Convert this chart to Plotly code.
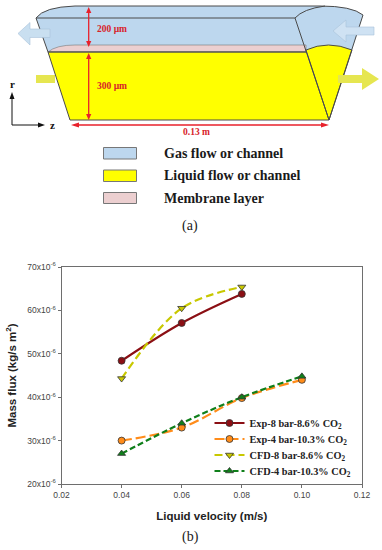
import plotly.graph_objects as go

# ---------- chart data ----------
velocity_8 = [0.04, 0.06, 0.08]
velocity_4 = [0.04, 0.06, 0.08, 0.10]
exp_8bar = [48.4e-6, 57.1e-6, 63.8e-6]
exp_4bar = [30.0e-6, 33.0e-6, 39.8e-6, 44.0e-6]
cfd_8bar = [44.3e-6, 60.5e-6, 65.4e-6]
cfd_4bar = [27.0e-6, 34.0e-6, 40.0e-6, 44.8e-6]
x_ticks = [0.02, 0.04, 0.06, 0.08, 0.10, 0.12]
x_labels = ["0.02", "0.04", "0.06", "0.08", "0.10", "0.12"]
y_ticks = [20e-6, 30e-6, 40e-6, 50e-6, 60e-6, 70e-6]
y_labels = [f"{v}x10<sup>-6</sup>" for v in (20, 30, 40, 50, 60, 70)]
legend_names = ["<b>Exp-8 bar-8.6% CO<sub>2</sub></b>", "<b>Exp-4 bar-10.3% CO<sub>2</sub></b>",
                "<b>CFD-8 bar-8.6% CO<sub>2</sub></b>", "<b>CFD-4 bar-10.3% CO<sub>2</sub></b>"]
schematic_legend = ["Gas flow or channel", "Liquid flow or channel", "Membrane layer"]

W, H = 382, 550
BLUE, YEL, PINK, DARK, RED = "#bdd7ee", "#ffff00", "#eccfd0", "#4a4a4a", "#e8212b"
SERIF, SANS = "Liberation Serif", "Liberation Sans"


def px(x):
    return x / W


def py(y):
    return 1 - y / H


def path(*segs):
    out = []
    for s in segs:
        if isinstance(s, str):
            out.append(s)
        else:
            out.append(f"{px(s[0]):.5f},{py(s[1]):.5f}")
    return " ".join(out).replace("M ", "M").replace("L ", "L").replace("Q ", "Q")


shapes, ann = [], []


def poly(pts, fill, line=None, w=1):
    segs = ["M", pts[0]]
    for p in pts[1:]:
        segs += ["L", p]
    segs.append("Z")
    shapes.append(dict(type="path", xref="paper", yref="paper", path=path(*segs), fillcolor=fill,
                       line=dict(color=line or fill, width=w if line else 0), layer="above"))


def curve(segs, fill="rgba(0,0,0,0)", line=None, w=1):
    shapes.append(dict(type="path", xref="paper", yref="paper", path=path(*segs), fillcolor=fill,
                       line=dict(color=line or fill, width=w if line else 0), layer="above"))


def seg(a, b, color=DARK, w=1):
    shapes.append(dict(type="line", xref="paper", yref="paper", x0=px(a[0]), y0=py(a[1]),
                       x1=px(b[0]), y1=py(b[1]), line=dict(color=color, width=w), layer="above"))


def text(x, y, s, size=12, color="#222", font=SERIF, bold=True, anchor="center"):
    ann.append(dict(xref="paper", yref="paper", x=px(x), y=py(y), text=f"<b>{s}</b>" if bold else s,
                    showarrow=False, xanchor=anchor, yanchor="middle",
                    font=dict(size=size, color=color, family=font)))


# gas channel
curve(["M", (36, 18), "Q", (44, 7), (75, 6), "L", (320, 6), "Q", (352, 6), (363, 15), "L", (352, 50),
       "L", (48, 52), "Z"], fill=BLUE)
curve(["M", (36, 18), "Q", (44, 7), (75, 6), "L", (320, 6), "Q", (352, 6), (363, 15)], line=DARK)
seg((36, 18), (48, 52))
seg((36, 18), (295, 18))
# membrane
curve(["M", (48, 52), "Q", (56, 45), (75, 45), "L", (306, 45), "L", (306, 52), "Z"], fill=PINK, line="#777777", w=0.6)
# liquid
poly([(48, 52), (306, 52), (329, 120), (70, 120)], YEL)
curve(["M", (306, 50), "Q", (328, 40), (352, 50), "L", (329, 120), "Z"], fill=YEL, line=DARK)
seg((48, 52), (306, 52), "#555555", 1.6)
seg((48, 52), (70, 120))
seg((70, 120), (329, 120))
# near face of gas channel
curve(["M", (295, 18), "Q", (303, 9), (325, 6)], line=DARK)
seg((295, 18), (329, 120))
seg((363, 15), (329, 120))


# red dimension arrows
def dbl_v(x, y0, y1):
    seg((x, y0 + 3), (x, y1 - 3), RED, 1.3)
    poly([(x, y0), (x - 2.6, y0 + 6), (x + 2.6, y0 + 6)], RED)
    poly([(x, y1), (x - 2.6, y1 - 6), (x + 2.6, y1 - 6)], RED)


dbl_v(88.7, 7, 47)
dbl_v(88.7, 53, 120)
seg((74, 125), (326, 125), RED, 1.3)
poly([(71, 125), (79, 122.4), (79, 127.6)], RED)
poly([(329, 125), (321, 122.4), (321, 127.6)], RED)
text(112, 29, "200 µm", 9.5, "#d8232a")
text(112, 86, "300 µm", 9.5, "#d8232a")
text(196, 131.5, "0.13 m", 9.5, "#d8232a")

# flow arrows
poly([(18, 33.5), (30, 22.5), (30, 29), (50, 29), (50, 37.5), (30, 37.5), (30, 45)], "#c9dff0", "#a9c3da", 0.6)
poly([(333, 31), (346, 20), (346, 27), (374, 27), (374, 35), (346, 35), (346, 42)], "#cfe2f3", "#a9c3da", 0.6)
poly([(36, 75), (55, 75), (55, 83), (36, 83)], "#e6e650")
poly([(338, 75), (362, 75), (362, 68), (379, 79), (362, 90), (362, 83), (338, 83)], "#e6e650")

# r-z axes
seg((12, 125), (12, 97), "#111111", 1)
poly([(12, 92), (9.5, 99), (14.5, 99)], "#111111")
seg((12, 125), (40, 125), "#111111", 1)
poly([(45, 125), (38, 122.5), (38, 127.5)], "#111111")
text(12, 84, "r", 11, "#111")
text(52, 125, "z", 11, "#111")

# schematic legend
for (y0, y1, c, label) in zip((147.5, 170, 192.5), (159, 181.5, 203.5), (BLUE, YEL, PINK), schematic_legend):
    shapes.append(dict(type="rect", xref="paper", yref="paper", x0=px(103.5), x1=px(136.5), y0=py(y1), y1=py(y0),
                       fillcolor=c, line=dict(color="#777777", width=1)))
    text(162, (y0 + y1) / 2, label, 14, "#1a1a1a", anchor="left")
text(190, 226, "(a)", 14, "#1a1a1a", bold=False)
text(190, 537, "(b)", 14, "#1a1a1a", bold=False)

marker_line = dict(color="#333333", width=0.8)
fig = go.Figure()
fig.add_trace(go.Scatter(x=velocity_8, y=exp_8bar, name=legend_names[0], mode="lines+markers", legend="legend",
                         line=dict(color="#8b0f14", width=2.2, shape="spline"),
                         marker=dict(symbol="circle", size=7, color="#8b0f14", line=marker_line)))
fig.add_trace(go.Scatter(x=velocity_4, y=exp_4bar, name=legend_names[1], mode="lines+markers", legend="legend2",
                         line=dict(color="#ff8c1a", width=2.2, dash="10px,4px", shape="spline"),
                         marker=dict(symbol="circle", size=7, color="#ff8c1a", line=marker_line)))
fig.add_trace(go.Scatter(x=velocity_8, y=cfd_8bar, name=legend_names[2], mode="lines+markers", legend="legend3",
                         line=dict(color="#c8c800", width=2.2, dash="8px,4px", shape="spline"),
                         marker=dict(symbol="triangle-down", size=7, color="#c8c800", line=marker_line)))
fig.add_trace(go.Scatter(x=velocity_4, y=cfd_4bar, name=legend_names[3], mode="lines+markers", legend="legend4",
                         line=dict(color="#0f7f1a", width=2.2, dash="6px,3px", shape="spline"),
                         marker=dict(symbol="triangle-up", size=7, color="#0f7f1a", line=marker_line)))

axis_common = dict(showline=True, linecolor="#6e6e6e", linewidth=1, mirror=True, showgrid=False, zeroline=False,
                   ticks="outside", ticklen=3, tickcolor="#6e6e6e", tickmode="array", automargin=False,
                   tickfont=dict(family=SANS, size=8.5, color="#444444"))


def leg(y_center):
    return dict(x=px(209.5), y=py(y_center), xanchor="left", yanchor="middle", bgcolor="rgba(0,0,0,0)",
                font=dict(family=SERIF, size=10.3, color="#222222"), itemwidth=30)


fig.update_layout(
    width=W, height=H, autosize=False, margin=dict(l=0, r=0, t=0, b=0, autoexpand=False),
    paper_bgcolor="white", plot_bgcolor="white",
    xaxis=dict(domain=[px(61.5), px(362)], range=[0.02, 0.12], tickvals=x_ticks, ticktext=x_labels,
               title=dict(text="<b>Liquid velocity (m/s)</b>", standoff=12,
                          font=dict(family=SANS, size=11.5, color="#222222")), **axis_common),
    yaxis=dict(domain=[py(484), py(267)], range=[20e-6, 70e-6], tickvals=y_ticks, ticktext=y_labels,
               title=dict(text="<b>Mass flux (kg/s m<sup>2</sup>)</b>", standoff=8,
                          font=dict(family=SANS, size=11.5, color="#222222")), **axis_common),
    legend=leg(423), legend2=leg(439), legend3=leg(455), legend4=leg(471),
    shapes=shapes, annotations=ann, showlegend=True,
)
fig.write_html("out.html", post_script="document.body.style.margin='0';",
               config={"displayModeBar": False})
